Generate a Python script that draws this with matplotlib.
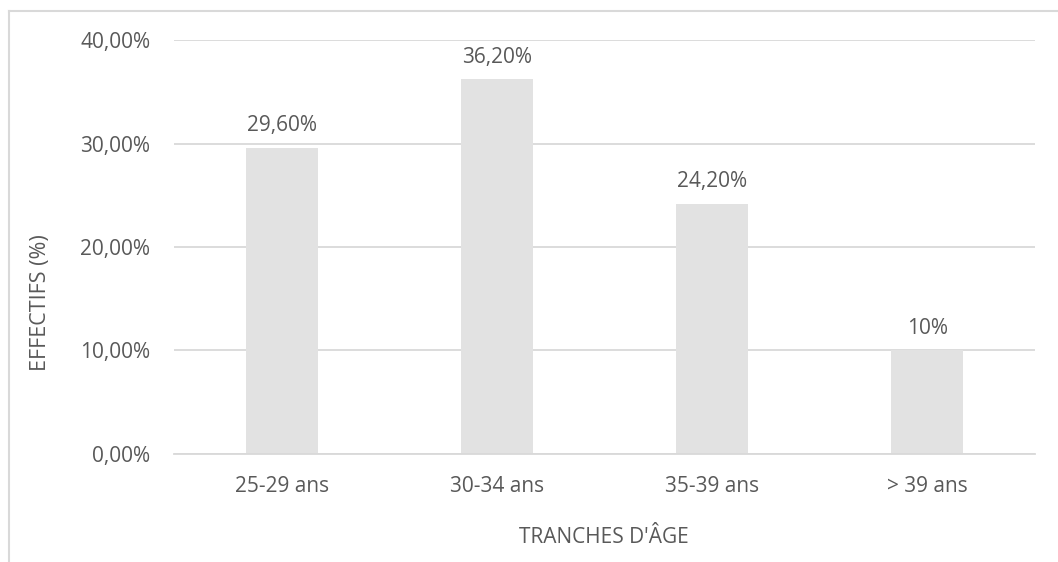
import matplotlib
matplotlib.use("Agg")
import matplotlib.pyplot as plt
from matplotlib.lines import Line2D
from matplotlib.ticker import FuncFormatter, MultipleLocator

plt.rcParams["font.family"] = ["Open Sans", "DejaVu Sans"]

# Répartition par tranche d'âge
categories = ["25-29 ans", "30-34 ans", "35-39 ans", "> 39 ans"]
values = [29.6, 36.2, 24.2, 10.0]
value_labels = ["29,60%", "36,20%", "24,20%", "10%"]

TEXT = "#595959"
GRID = "#D9D9D9"
BAR = "#E2E2E2"

fig = plt.figure(figsize=(10.58, 5.62), dpi=100)
fig.patch.set_facecolor("white")
ax = fig.add_axes([0.1645, 0.1922, 0.8138, 0.7366])

x = range(len(categories))
bars = ax.bar(x, values, width=0.335, color=BAR, zorder=2)

for rect, lab in zip(bars, value_labels):
    ax.annotate(
        lab,
        (rect.get_x() + rect.get_width() / 2, rect.get_height()),
        xytext=(0, 8.5),
        textcoords="offset points",
        ha="center",
        va="bottom",
        fontsize=15,
        color=TEXT,
    )

ax.set_xlim(-0.5, len(categories) - 0.5)
ax.set_ylim(0, 40)
ax.yaxis.set_major_locator(MultipleLocator(10))
ax.yaxis.set_major_formatter(
    FuncFormatter(lambda v, _p: f"{v:.2f}%".replace(".", ","))
)
ax.set_xticks(list(x))
ax.set_xticklabels(categories)
ax.tick_params(axis="both", length=0, labelsize=15, labelcolor=TEXT)
ax.tick_params(axis="y", pad=17)
ax.tick_params(axis="x", pad=16)

ax.grid(axis="y", color=GRID, lw=1.3, zorder=0)
for side in ["top", "right", "left"]:
    ax.spines[side].set_visible(False)
ax.spines["bottom"].set_color(GRID)
ax.spines["bottom"].set_linewidth(1.3)

fig.text(0.0387, 0.461, "EFFECTIFS (%)", rotation=90, ha="center", va="center",
         fontsize=15.5, color=TEXT)
fig.text(0.571, 0.043, "TRANCHES D'ÂGE", ha="center", va="center",
         fontsize=15, color=TEXT)

# cadre du graphique
fx, fy = 9 / 1058, 1 - 11 / 562
fig.add_artist(Line2D([fx, fx], [0, fy], color=GRID, lw=1.5, transform=fig.transFigure))
fig.add_artist(Line2D([fx, 1], [fy, fy], color=GRID, lw=1.5, transform=fig.transFigure))

fig.savefig("out.png", dpi=100, facecolor="white")
